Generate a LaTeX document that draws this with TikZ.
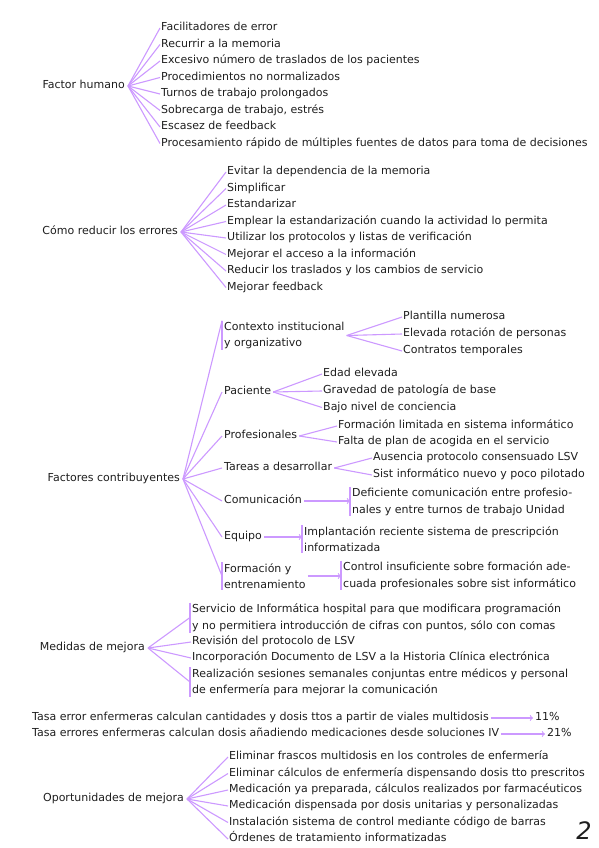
\documentclass[tikz,border=0pt]{standalone}
\usepackage{fontspec}
\setmainfont{DejaVu Sans}
\usepackage{tikz}
\definecolor{lila}{RGB}{204,153,255}
\definecolor{tinta}{RGB}{30,30,30}
\tikzset{
  raiz/.style={anchor=east,inner xsep=3pt,inner ysep=0pt,text height=8pt,text depth=2.5pt},
  tema/.style={anchor=west,inner xsep=2pt,inner ysep=0pt,text height=8pt,text depth=2.5pt},
  hoja/.style={anchor=west,inner xsep=1pt,inner ysep=0pt,text height=8pt,text depth=2.5pt},
  bloque/.style={anchor=west,align=left,inner xsep=2pt,inner ysep=1pt},
  rama/.style={draw=lila,line width=1.1pt},
  flecha/.style={rama,->}
}

\begin{document}
\begin{tikzpicture}[x=1pt,y=-1pt,text=tinta,font=\fontsize{11}{16.5}\selectfont]
  \useasboundingbox (0,0) rectangle (599,848);
  % factor humano
  \node (fh) [raiz] at (128,86) {Factor humano};
  \node (fh1) [hoja] at (160,28) {Facilitadores de error};
  \node (fh2) [hoja] at (160,44.5) {Recurrir a la memoria};
  \node (fh3) [hoja] at (160,61) {Excesivo número de traslados de los pacientes};
  \node (fh4) [hoja] at (160,77.5) {Procedimientos no normalizados};
  \node (fh5) [hoja] at (160,94) {Turnos de trabajo prolongados};
  \node (fh6) [hoja] at (160,110.5) {Sobrecarga de trabajo, estrés};
  \node (fh7) [hoja] at (160,127) {Escasez de feedback};
  \node (fh8) [hoja] at (160,143.5) {Procesamiento rápido de múltiples fuentes de datos para toma de decisiones};
  \draw [rama] (fh.east) edge (fh1.west) edge (fh2.west) edge (fh3.west)
    edge (fh4.west) edge (fh5.west) edge (fh6.west) edge (fh7.west) edge (fh8.west);

  % como reducir
  \node (cr) [raiz] at (181,232) {Cómo reducir los errores};
  \node (cr1) [hoja] at (226,172) {Evitar la dependencia de la memoria};
  \node (cr2) [hoja] at (226,188.5) {Simplificar};
  \node (cr3) [hoja] at (226,205) {Estandarizar};
  \node (cr4) [hoja] at (226,221.5) {Emplear la estandarización cuando la actividad lo permita};
  \node (cr5) [hoja] at (226,238) {Utilizar los protocolos y listas de verificación};
  \node (cr6) [hoja] at (226,254.5) {Mejorar el acceso a la información};
  \node (cr7) [hoja] at (226,271) {Reducir los traslados y los cambios de servicio};
  \node (cr8) [hoja] at (226,287.5) {Mejorar feedback};
  \draw [rama] (cr.east) edge (cr1.west) edge (cr2.west) edge (cr3.west)
    edge (cr4.west) edge (cr5.west) edge (cr6.west) edge (cr7.west) edge (cr8.west);

  % factores contribuyentes
  \node (fc) [raiz] at (183,479) {Factores contribuyentes};
  \node (ctx) [bloque] at (222,335.5) {Contexto institucional\\y organizativo};
  \node (ctx1) [hoja] at (402,317) {Plantilla numerosa};
  \node (ctx2) [hoja] at (402,334) {Elevada rotación de personas};
  \node (ctx3) [hoja] at (402,351) {Contratos temporales};
  \draw [rama] (ctx.north west) -- (ctx.south west);
  \draw [rama] (ctx.east) edge (ctx1.west) edge (ctx2.west) edge (ctx3.west);

  \node (pac) [tema] at (222,392) {Paciente};
  \node (pac1) [hoja] at (322,374) {Edad elevada};
  \node (pac2) [hoja] at (322,391) {Gravedad de patología de base};
  \node (pac3) [hoja] at (322,407.5) {Bajo nivel de conciencia};
  \draw [rama] (pac.east) edge (pac1.west) edge (pac2.west) edge (pac3.west);

  \node (pro) [tema] at (222,436) {Profesionales};
  \node (pro1) [hoja] at (337,426) {Formación limitada en sistema informático};
  \node (pro2) [hoja] at (337,442) {Falta de plan de acogida en el servicio};
  \draw [rama] (pro.east) edge (pro1.west) edge (pro2.west);

  \node (tar) [tema] at (222,468) {Tareas a desarrollar};
  \node (tar1) [hoja] at (372,458) {Ausencia protocolo consensuado LSV};
  \node (tar2) [hoja] at (372,475) {Sist informático nuevo y poco pilotado};
  \draw [rama] (tar.east) edge (tar1.west) edge (tar2.west);

  \node (com) [tema] at (222,501) {Comunicación};
  \node (comd) [bloque] at (350,501.5) {Deficiente comunicación entre profesio-\\nales y entre turnos de trabajo Unidad};
  \draw [rama] (comd.north west) -- (comd.south west);
  \draw [flecha] (com.east) -- (com.east -| comd.west);

  \node (equ) [tema] at (222,537) {Equipo};
  \node (equd) [bloque] at (302,539) {Implantación reciente sistema de prescripción\\informatizada};
  \draw [rama] (equd.north west) -- (equd.south west);
  \draw [flecha] (equ.east) -- (equ.east -| equd.west);

  \node (fe) [bloque] at (222,576) {Formación y\\entrenamiento};
  \node (fed) [bloque] at (341,575.5) {Control insuficiente sobre formación ade-\\cuada profesionales sobre sist informático};
  \draw [rama] (fe.north west) -- (fe.south west);
  \draw [rama] (fed.north west) -- (fed.south west);
  \draw [flecha] (fe.east) -- (fe.east -| fed.west);

  \draw [rama] (fc.east) edge (ctx.north west) edge (pac.west) edge (pro.west)
    edge (tar.west) edge (com.west) edge (equ.west) edge (fe.west);

  % medidas de mejora
  \node (mm) [raiz] at (148,648) {Medidas de mejora};
  \node (mm1) [bloque] at (190,617.5) {Servicio de Informática hospital para que modificara programación\\y no permitiera introducción de cifras con puntos, sólo con comas};
  \node (mm2) [hoja] at (191,642) {Revisión del protocolo de LSV};
  \node (mm3) [hoja] at (191,658) {Incorporación Documento de LSV a la Historia Clínica electrónica};
  \node (mm4) [bloque] at (190,682) {Realización sesiones semanales conjuntas entre médicos y personal\\de enfermería para mejorar la comunicación};
  \draw [rama] (mm1.north west) -- (mm1.south west);
  \draw [rama] (mm4.north west) -- (mm4.south west);
  \draw [rama] (mm.east) edge (mm1.west) edge (mm2.west) edge (mm3.west) edge (mm4.west);

  % tasas
  \node (t1) [tema] at (30,718) {Tasa error enfermeras calculan cantidades y dosis ttos a partir de viales multidosis};
  \node (p1) [tema] at (533,718) {11\%};
  \node (t2) [tema] at (30,734) {Tasa errores enfermeras calculan dosis añadiendo medicaciones desde soluciones IV};
  \node (p2) [tema] at (545,734) {21\%};
  \draw [flecha] (t1.east) -- (p1.west);
  \draw [flecha] (t2.east) -- (p2.west);

  % oportunidades de mejora
  \node (om) [raiz] at (187,799) {Oportunidades de mejora};
  \node (om1) [hoja] at (228,757) {Eliminar frascos multidosis en los controles de enfermería};
  \node (om2) [hoja] at (228,773.5) {Eliminar cálculos de enfermería dispensando dosis tto prescritos};
  \node (om3) [hoja] at (228,790) {Medicación ya preparada, cálculos realizados por farmacéuticos};
  \node (om4) [hoja] at (228,806) {Medicación dispensada por dosis unitarias y personalizadas};
  \node (om5) [hoja] at (228,822.5) {Instalación sistema de control mediante código de barras};
  \node (om6) [hoja] at (228,839) {Órdenes de tratamiento informatizadas};
  \draw [rama] (om.east) edge (om1.west) edge (om2.west) edge (om3.west)
    edge (om4.west) edge (om5.west) edge (om6.west);

  \node (pag) at (584,831) {\fontsize{24}{24}\selectfont\itshape 2};
\end{tikzpicture}
\end{document}
